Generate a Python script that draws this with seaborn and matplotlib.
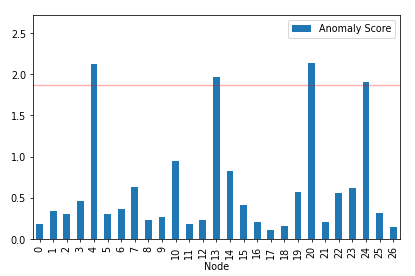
import pandas as pd
import matplotlib
matplotlib.use("Agg")
import matplotlib.pyplot as plt
import seaborn as sns

# --- DATA ---
nodes = list(range(27))
scores = [0.18, 0.34, 0.30, 0.46, 2.12, 0.30, 0.36, 0.63, 0.23, 0.27,
          0.95, 0.18, 0.23, 1.97, 0.83, 0.41, 0.21, 0.105, 0.155, 0.565,
          2.14, 0.20, 0.555, 0.62, 1.91, 0.315, 0.14]
threshold = 1.875

df = pd.DataFrame({'Node': nodes, 'Anomaly Score': scores})

# --- PLOT ---
fig, ax = plt.subplots(figsize=(6, 4), dpi=69.17)

sns.barplot(data=df, x='Node', y='Anomaly Score', color='#1f77b4',
            saturation=1, width=0.5, label='Anomaly Score', ax=ax)

ax.axhline(threshold, color='red', alpha=0.3, linewidth=1.5)

ax.set_ylim(0, 2.72)
ax.set_ylabel('')
ax.set_xlabel('Node')
plt.setp(ax.get_xticklabels(), rotation=90)
ax.legend(loc='upper right')

plt.subplots_adjust(left=0.079, right=0.964, top=0.943, bottom=0.134)
plt.savefig('out.png', dpi=69.17)
